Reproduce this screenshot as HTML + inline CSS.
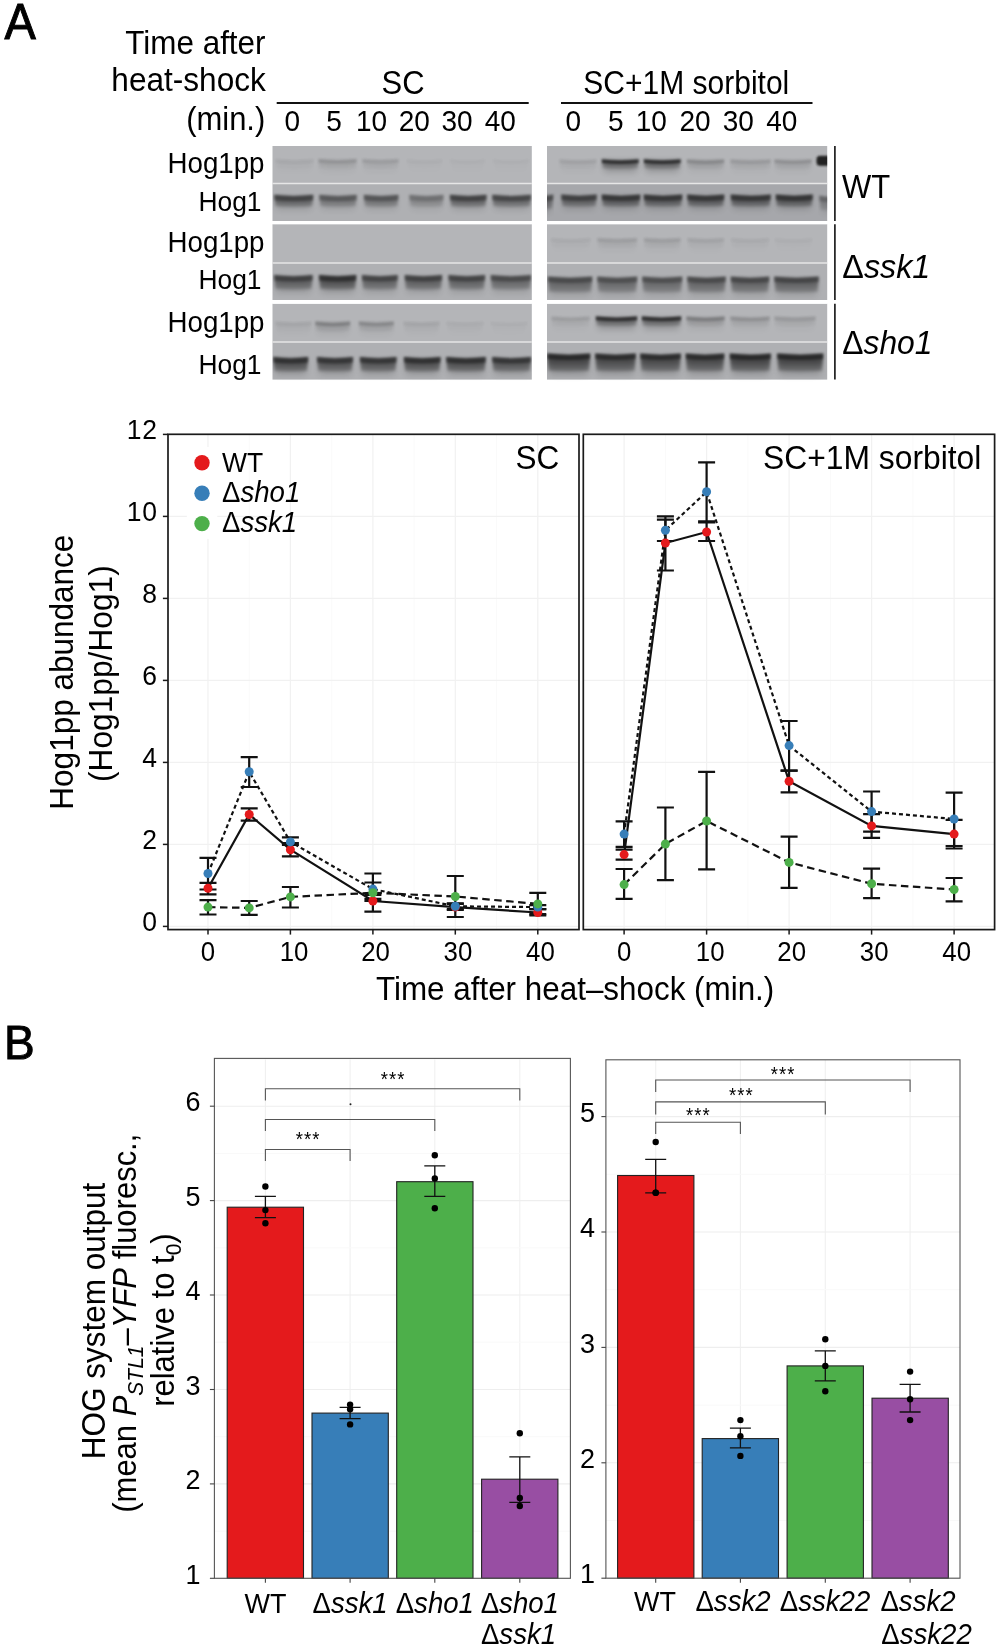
<!DOCTYPE html>
<html><head><meta charset="utf-8"><style>
html,body{margin:0;padding:0;background:#fff;}
body{width:1000px;height:1651px;overflow:hidden;}
svg{display:block;will-change:transform;}
text{font-family:"Liberation Sans", sans-serif;fill:#000;}
</style></head><body>
<svg width="1000" height="1651" viewBox="0 0 1000 1651">
<rect width="1000" height="1651" fill="#fff"/>
<text transform="translate(4.6,39.0) scale(1,1.05)" font-size="47" text-anchor="start" stroke="#000" stroke-width="0.9">A</text>
<text transform="translate(265.5,54.0) scale(1,1.05)" font-size="31.4" text-anchor="end" >Time after</text>
<text transform="translate(265.8,91.0) scale(1,1.05)" font-size="31.6" text-anchor="end" >heat-shock</text>
<text transform="translate(265.3,129.5) scale(1,1.05)" font-size="31" text-anchor="end" >(min.)</text>
<text transform="translate(403.0,93.8) scale(1,1.1)" font-size="31" text-anchor="middle" >SC</text>
<text transform="translate(686.3,93.6) scale(1,1.08)" font-size="30" text-anchor="middle" >SC+1M sorbitol</text>
<line x1="276.7" y1="103" x2="528.7" y2="103" stroke="#111" stroke-width="2"/>
<line x1="561" y1="103" x2="812.5" y2="103" stroke="#111" stroke-width="2"/>
<text transform="translate(292.3,131.3) scale(1,1.05)" font-size="28" text-anchor="middle" >0</text>
<text transform="translate(334.0,131.3) scale(1,1.05)" font-size="28" text-anchor="middle" >5</text>
<text transform="translate(371.5,131.3) scale(1,1.05)" font-size="28" text-anchor="middle" >10</text>
<text transform="translate(414.2,131.3) scale(1,1.05)" font-size="28" text-anchor="middle" >20</text>
<text transform="translate(457.1,131.3) scale(1,1.05)" font-size="28" text-anchor="middle" >30</text>
<text transform="translate(500.3,131.3) scale(1,1.05)" font-size="28" text-anchor="middle" >40</text>
<text transform="translate(573.3,131.3) scale(1,1.05)" font-size="28" text-anchor="middle" >0</text>
<text transform="translate(615.8,131.3) scale(1,1.05)" font-size="28" text-anchor="middle" >5</text>
<text transform="translate(651.2,131.3) scale(1,1.05)" font-size="28" text-anchor="middle" >10</text>
<text transform="translate(695.0,131.3) scale(1,1.05)" font-size="28" text-anchor="middle" >20</text>
<text transform="translate(738.2,131.3) scale(1,1.05)" font-size="28" text-anchor="middle" >30</text>
<text transform="translate(781.8,131.3) scale(1,1.05)" font-size="28" text-anchor="middle" >40</text>
<defs><filter id="b1" x="-20%" y="-100%" width="140%" height="300%"><feGaussianBlur stdDeviation="1.5"/></filter><filter id="b2" x="-20%" y="-100%" width="140%" height="300%"><feGaussianBlur stdDeviation="3"/></filter><filter id="b3" x="-20%" y="-100%" width="140%" height="300%"><feGaussianBlur stdDeviation="1.0"/></filter><linearGradient id="gb" x1="0" y1="0" x2="0" y2="1"><stop offset="0" stop-color="#000" stop-opacity="1"/><stop offset="0.45" stop-color="#000" stop-opacity="0.8"/><stop offset="1" stop-color="#000" stop-opacity="0.35"/></linearGradient></defs>
<rect x="272.5" y="146" width="259.3" height="37.5" fill="#b4b5b8"/>
<rect x="272.5" y="183.5" width="259.3" height="37.5" fill="#afb0b3"/>
<rect x="272.5" y="224.2" width="259.3" height="38.8" fill="#b4b5b8"/>
<rect x="272.5" y="263" width="259.3" height="37.0" fill="#afb0b3"/>
<rect x="272.5" y="303.7" width="259.3" height="38.3" fill="#b4b5b8"/>
<rect x="272.5" y="342" width="259.3" height="37.6" fill="#afb0b3"/>
<rect x="547" y="146" width="280.2" height="37.5" fill="#b4b5b8"/>
<rect x="547" y="183.5" width="280.2" height="37.5" fill="#a6a7ab"/>
<rect x="547" y="224.2" width="280.2" height="38.8" fill="#b4b5b8"/>
<rect x="547" y="263" width="280.2" height="37.0" fill="#afb0b3"/>
<rect x="547" y="303.7" width="280.2" height="38.3" fill="#b4b5b8"/>
<rect x="547" y="342" width="280.2" height="37.6" fill="#afb0b3"/>
<clipPath id="clipSC"><rect x="272.5" y="140" width="259.3" height="245"/></clipPath>
<g clip-path="url(#clipSC)">
<rect x="277.0" y="161.0" width="35.0" height="11.0" rx="3" fill="#000" opacity="0.011" filter="url(#b2)"/>
<path d="M275.0,158.8 Q294.5,161.1 314.0,158.8 L312.5,168.0 Q294.5,169.5 276.5,168.0 Z" fill="url(#gb)" opacity="0.027" filter="url(#b1)"/>
<path d="M275.5,159.1 Q294.5,161.3 313.5,159.1 L313.5,162.7 Q294.5,164.7 275.5,162.7 Z" fill="#000" opacity="0.033" filter="url(#b3)"/>
<rect x="276.0" y="197.8" width="35.5" height="12.0" rx="3" fill="#000" opacity="0.126" filter="url(#b2)"/>
<path d="M274.0,194.8 Q293.8,197.1 313.5,194.8 L312.0,206.2 Q293.8,207.7 275.5,206.2 Z" fill="url(#gb)" opacity="0.490" filter="url(#b1)"/>
<path d="M274.5,195.1 Q293.8,197.3 313.0,195.1 L313.0,200.3 Q293.8,202.3 274.5,200.3 Z" fill="#000" opacity="0.280" filter="url(#b3)"/>
<rect x="320.0" y="161.0" width="35.0" height="11.0" rx="3" fill="#000" opacity="0.032" filter="url(#b2)"/>
<path d="M318.0,158.8 Q337.5,161.1 357.0,158.8 L355.5,168.0 Q337.5,169.5 319.5,168.0 Z" fill="url(#gb)" opacity="0.081" filter="url(#b1)"/>
<path d="M318.5,159.1 Q337.5,161.3 356.5,159.1 L356.5,162.7 Q337.5,164.7 318.5,162.7 Z" fill="#000" opacity="0.099" filter="url(#b3)"/>
<rect x="321.0" y="197.8" width="34.0" height="12.0" rx="3" fill="#000" opacity="0.094" filter="url(#b2)"/>
<path d="M319.0,194.8 Q338.0,197.1 357.0,194.8 L355.5,206.2 Q338.0,207.7 320.5,206.2 Z" fill="url(#gb)" opacity="0.364" filter="url(#b1)"/>
<path d="M319.5,195.1 Q338.0,197.3 356.5,195.1 L356.5,200.3 Q338.0,202.3 319.5,200.3 Z" fill="#000" opacity="0.208" filter="url(#b3)"/>
<rect x="364.0" y="161.0" width="33.0" height="11.0" rx="3" fill="#000" opacity="0.023" filter="url(#b2)"/>
<path d="M362.0,158.8 Q380.5,161.1 399.0,158.8 L397.5,168.0 Q380.5,169.5 363.5,168.0 Z" fill="url(#gb)" opacity="0.059" filter="url(#b1)"/>
<path d="M362.5,159.1 Q380.5,161.3 398.5,159.1 L398.5,162.7 Q380.5,164.7 362.5,162.7 Z" fill="#000" opacity="0.072" filter="url(#b3)"/>
<rect x="365.6" y="197.8" width="31.1" height="12.0" rx="3" fill="#000" opacity="0.099" filter="url(#b2)"/>
<path d="M363.6,194.8 Q381.1,197.1 398.7,194.8 L397.2,206.2 Q381.1,207.7 365.1,206.2 Z" fill="url(#gb)" opacity="0.385" filter="url(#b1)"/>
<path d="M364.1,195.1 Q381.1,197.3 398.2,195.1 L398.2,200.3 Q381.1,202.3 364.1,200.3 Z" fill="#000" opacity="0.220" filter="url(#b3)"/>
<rect x="408.0" y="161.0" width="33.0" height="11.0" rx="3" fill="#000" opacity="0.005" filter="url(#b2)"/>
<path d="M406.0,158.8 Q424.5,161.1 443.0,158.8 L441.5,168.0 Q424.5,169.5 407.5,168.0 Z" fill="url(#gb)" opacity="0.013" filter="url(#b1)"/>
<path d="M406.5,159.1 Q424.5,161.3 442.5,159.1 L442.5,162.7 Q424.5,164.7 406.5,162.7 Z" fill="#000" opacity="0.017" filter="url(#b3)"/>
<rect x="411.0" y="197.8" width="30.8" height="12.0" rx="3" fill="#000" opacity="0.065" filter="url(#b2)"/>
<path d="M409.0,194.8 Q426.4,197.1 443.8,194.8 L442.3,206.2 Q426.4,207.7 410.5,206.2 Z" fill="url(#gb)" opacity="0.252" filter="url(#b1)"/>
<path d="M409.5,195.1 Q426.4,197.3 443.3,195.1 L443.3,200.3 Q426.4,202.3 409.5,200.3 Z" fill="#000" opacity="0.144" filter="url(#b3)"/>
<rect x="451.0" y="161.0" width="33.0" height="11.0" rx="3" fill="#000" opacity="0.004" filter="url(#b2)"/>
<path d="M449.0,158.8 Q467.5,161.1 486.0,158.8 L484.5,168.0 Q467.5,169.5 450.5,168.0 Z" fill="url(#gb)" opacity="0.009" filter="url(#b1)"/>
<path d="M449.5,159.1 Q467.5,161.3 485.5,159.1 L485.5,162.7 Q467.5,164.7 449.5,162.7 Z" fill="#000" opacity="0.011" filter="url(#b3)"/>
<rect x="451.7" y="197.8" width="33.1" height="12.0" rx="3" fill="#000" opacity="0.126" filter="url(#b2)"/>
<path d="M449.7,194.8 Q468.2,197.1 486.8,194.8 L485.3,206.2 Q468.2,207.7 451.2,206.2 Z" fill="url(#gb)" opacity="0.490" filter="url(#b1)"/>
<path d="M450.2,195.1 Q468.2,197.3 486.3,195.1 L486.3,200.3 Q468.2,202.3 450.2,200.3 Z" fill="#000" opacity="0.280" filter="url(#b3)"/>
<rect x="494.0" y="161.0" width="34.0" height="11.0" rx="3" fill="#000" opacity="0.004" filter="url(#b2)"/>
<path d="M492.0,158.8 Q511.0,161.1 530.0,158.8 L528.5,168.0 Q511.0,169.5 493.5,168.0 Z" fill="url(#gb)" opacity="0.009" filter="url(#b1)"/>
<path d="M492.5,159.1 Q511.0,161.3 529.5,159.1 L529.5,162.7 Q511.0,164.7 492.5,162.7 Z" fill="#000" opacity="0.011" filter="url(#b3)"/>
<rect x="494.0" y="197.8" width="35.3" height="12.0" rx="3" fill="#000" opacity="0.119" filter="url(#b2)"/>
<path d="M492.0,194.8 Q511.6,197.1 531.3,194.8 L529.8,206.2 Q511.6,207.7 493.5,206.2 Z" fill="url(#gb)" opacity="0.462" filter="url(#b1)"/>
<path d="M492.5,195.1 Q511.6,197.3 530.8,195.1 L530.8,200.3 Q511.6,202.3 492.5,200.3 Z" fill="#000" opacity="0.264" filter="url(#b3)"/>
<rect x="275.9" y="278.0" width="35.0" height="15.0" rx="3" fill="#000" opacity="0.130" filter="url(#b2)"/>
<path d="M273.9,275.0 Q293.4,277.3 312.9,275.0 L311.4,289.0 Q293.4,290.5 275.4,289.0 Z" fill="url(#gb)" opacity="0.504" filter="url(#b1)"/>
<path d="M274.4,275.3 Q293.4,277.5 312.4,275.3 L312.4,280.5 Q293.4,282.5 274.4,280.5 Z" fill="#000" opacity="0.288" filter="url(#b3)"/>
<rect x="320.8" y="278.0" width="33.7" height="15.0" rx="3" fill="#000" opacity="0.153" filter="url(#b2)"/>
<path d="M318.8,275.0 Q337.6,277.3 356.5,275.0 L355.0,289.0 Q337.6,290.5 320.3,289.0 Z" fill="url(#gb)" opacity="0.595" filter="url(#b1)"/>
<path d="M319.3,275.3 Q337.6,277.5 356.0,275.3 L356.0,280.5 Q337.6,282.5 319.3,280.5 Z" fill="#000" opacity="0.340" filter="url(#b3)"/>
<rect x="363.7" y="278.0" width="32.3" height="15.0" rx="3" fill="#000" opacity="0.122" filter="url(#b2)"/>
<path d="M361.7,275.0 Q379.9,277.3 398.0,275.0 L396.5,289.0 Q379.9,290.5 363.2,289.0 Z" fill="url(#gb)" opacity="0.476" filter="url(#b1)"/>
<path d="M362.2,275.3 Q379.9,277.5 397.5,275.3 L397.5,280.5 Q379.9,282.5 362.2,280.5 Z" fill="#000" opacity="0.272" filter="url(#b3)"/>
<rect x="406.5" y="278.0" width="33.8" height="15.0" rx="3" fill="#000" opacity="0.126" filter="url(#b2)"/>
<path d="M404.5,275.0 Q423.4,277.3 442.3,275.0 L440.8,289.0 Q423.4,290.5 406.0,289.0 Z" fill="url(#gb)" opacity="0.490" filter="url(#b1)"/>
<path d="M405.0,275.3 Q423.4,277.5 441.8,275.3 L441.8,280.5 Q423.4,282.5 405.0,280.5 Z" fill="#000" opacity="0.280" filter="url(#b3)"/>
<rect x="450.2" y="278.0" width="33.1" height="15.0" rx="3" fill="#000" opacity="0.122" filter="url(#b2)"/>
<path d="M448.2,275.0 Q466.8,277.3 485.3,275.0 L483.8,289.0 Q466.8,290.5 449.7,289.0 Z" fill="url(#gb)" opacity="0.476" filter="url(#b1)"/>
<path d="M448.7,275.3 Q466.8,277.5 484.8,275.3 L484.8,280.5 Q466.8,282.5 448.7,280.5 Z" fill="#000" opacity="0.272" filter="url(#b3)"/>
<rect x="492.5" y="278.0" width="36.8" height="15.0" rx="3" fill="#000" opacity="0.112" filter="url(#b2)"/>
<path d="M490.5,275.0 Q510.9,277.3 531.3,275.0 L529.8,289.0 Q510.9,290.5 492.0,289.0 Z" fill="url(#gb)" opacity="0.434" filter="url(#b1)"/>
<path d="M491.0,275.3 Q510.9,277.5 530.8,275.3 L530.8,280.5 Q510.9,282.5 491.0,280.5 Z" fill="#000" opacity="0.248" filter="url(#b3)"/>
<rect x="277.0" y="323.5" width="33.0" height="11.0" rx="3" fill="#000" opacity="0.014" filter="url(#b2)"/>
<path d="M275.0,321.3 Q293.5,323.6 312.0,321.3 L310.5,330.5 Q293.5,332.0 276.5,330.5 Z" fill="url(#gb)" opacity="0.036" filter="url(#b1)"/>
<path d="M275.5,321.6 Q293.5,323.8 311.5,321.6 L311.5,325.2 Q293.5,327.2 275.5,325.2 Z" fill="#000" opacity="0.044" filter="url(#b3)"/>
<rect x="275.0" y="360.0" width="31.4" height="15.0" rx="3" fill="#000" opacity="0.153" filter="url(#b2)"/>
<path d="M273.0,357.0 Q290.7,359.3 308.4,357.0 L306.9,371.0 Q290.7,372.5 274.5,371.0 Z" fill="url(#gb)" opacity="0.595" filter="url(#b1)"/>
<path d="M273.5,357.3 Q290.7,359.5 307.9,357.3 L307.9,362.5 Q290.7,364.5 273.5,362.5 Z" fill="#000" opacity="0.340" filter="url(#b3)"/>
<rect x="316.9" y="323.5" width="31.7" height="11.0" rx="3" fill="#000" opacity="0.054" filter="url(#b2)"/>
<path d="M314.9,321.3 Q332.8,323.6 350.6,321.3 L349.1,330.5 Q332.8,332.0 316.4,330.5 Z" fill="url(#gb)" opacity="0.135" filter="url(#b1)"/>
<path d="M315.4,321.6 Q332.8,323.8 350.1,321.6 L350.1,325.2 Q332.8,327.2 315.4,325.2 Z" fill="#000" opacity="0.165" filter="url(#b3)"/>
<rect x="318.8" y="360.0" width="32.4" height="15.0" rx="3" fill="#000" opacity="0.144" filter="url(#b2)"/>
<path d="M316.8,357.0 Q335.0,359.3 353.2,357.0 L351.7,371.0 Q335.0,372.5 318.3,371.0 Z" fill="url(#gb)" opacity="0.560" filter="url(#b1)"/>
<path d="M317.3,357.3 Q335.0,359.5 352.7,357.3 L352.7,362.5 Q335.0,364.5 317.3,362.5 Z" fill="#000" opacity="0.320" filter="url(#b3)"/>
<rect x="360.4" y="323.5" width="31.8" height="11.0" rx="3" fill="#000" opacity="0.045" filter="url(#b2)"/>
<path d="M358.4,321.3 Q376.3,323.6 394.2,321.3 L392.7,330.5 Q376.3,332.0 359.9,330.5 Z" fill="url(#gb)" opacity="0.113" filter="url(#b1)"/>
<path d="M358.9,321.6 Q376.3,323.8 393.7,321.6 L393.7,325.2 Q376.3,327.2 358.9,325.2 Z" fill="#000" opacity="0.138" filter="url(#b3)"/>
<rect x="361.7" y="360.0" width="33.1" height="15.0" rx="3" fill="#000" opacity="0.144" filter="url(#b2)"/>
<path d="M359.7,357.0 Q378.2,359.3 396.8,357.0 L395.3,371.0 Q378.2,372.5 361.2,371.0 Z" fill="url(#gb)" opacity="0.560" filter="url(#b1)"/>
<path d="M360.2,357.3 Q378.2,359.5 396.3,357.3 L396.3,362.5 Q378.2,364.5 360.2,362.5 Z" fill="#000" opacity="0.320" filter="url(#b3)"/>
<rect x="405.0" y="323.5" width="33.0" height="11.0" rx="3" fill="#000" opacity="0.014" filter="url(#b2)"/>
<path d="M403.0,321.3 Q421.5,323.6 440.0,321.3 L438.5,330.5 Q421.5,332.0 404.5,330.5 Z" fill="url(#gb)" opacity="0.036" filter="url(#b1)"/>
<path d="M403.5,321.6 Q421.5,323.8 439.5,321.6 L439.5,325.2 Q421.5,327.2 403.5,325.2 Z" fill="#000" opacity="0.044" filter="url(#b3)"/>
<rect x="405.7" y="360.0" width="33.1" height="15.0" rx="3" fill="#000" opacity="0.153" filter="url(#b2)"/>
<path d="M403.7,357.0 Q422.2,359.3 440.8,357.0 L439.3,371.0 Q422.2,372.5 405.2,371.0 Z" fill="url(#gb)" opacity="0.595" filter="url(#b1)"/>
<path d="M404.2,357.3 Q422.2,359.5 440.3,357.3 L440.3,362.5 Q422.2,364.5 404.2,362.5 Z" fill="#000" opacity="0.340" filter="url(#b3)"/>
<rect x="448.0" y="323.5" width="34.0" height="11.0" rx="3" fill="#000" opacity="0.007" filter="url(#b2)"/>
<path d="M446.0,321.3 Q465.0,323.6 484.0,321.3 L482.5,330.5 Q465.0,332.0 447.5,330.5 Z" fill="url(#gb)" opacity="0.018" filter="url(#b1)"/>
<path d="M446.5,321.6 Q465.0,323.8 483.5,321.6 L483.5,325.2 Q465.0,327.2 446.5,325.2 Z" fill="#000" opacity="0.022" filter="url(#b3)"/>
<rect x="448.0" y="360.0" width="36.0" height="15.0" rx="3" fill="#000" opacity="0.153" filter="url(#b2)"/>
<path d="M446.0,357.0 Q466.0,359.3 486.0,357.0 L484.5,371.0 Q466.0,372.5 447.5,371.0 Z" fill="url(#gb)" opacity="0.595" filter="url(#b1)"/>
<path d="M446.5,357.3 Q466.0,359.5 485.5,357.3 L485.5,362.5 Q466.0,364.5 446.5,362.5 Z" fill="#000" opacity="0.340" filter="url(#b3)"/>
<rect x="492.0" y="323.5" width="34.0" height="11.0" rx="3" fill="#000" opacity="0.005" filter="url(#b2)"/>
<path d="M490.0,321.3 Q509.0,323.6 528.0,321.3 L526.5,330.5 Q509.0,332.0 491.5,330.5 Z" fill="url(#gb)" opacity="0.013" filter="url(#b1)"/>
<path d="M490.5,321.6 Q509.0,323.8 527.5,321.6 L527.5,325.2 Q509.0,327.2 490.5,325.2 Z" fill="#000" opacity="0.017" filter="url(#b3)"/>
<rect x="494.0" y="360.0" width="35.3" height="15.0" rx="3" fill="#000" opacity="0.144" filter="url(#b2)"/>
<path d="M492.0,357.0 Q511.6,359.3 531.3,357.0 L529.8,371.0 Q511.6,372.5 493.5,371.0 Z" fill="url(#gb)" opacity="0.560" filter="url(#b1)"/>
<path d="M492.5,357.3 Q511.6,359.5 530.8,357.3 L530.8,362.5 Q511.6,364.5 492.5,362.5 Z" fill="#000" opacity="0.320" filter="url(#b3)"/>
</g>
<rect x="272.5" y="221.0" width="259.3" height="3.2" fill="#fff"/>
<rect x="272.5" y="300.0" width="259.3" height="3.7" fill="#fff"/>
<line x1="272.5" y1="183.5" x2="531.8" y2="183.5" stroke="#e6e6e6" stroke-width="1.3"/>
<line x1="272.5" y1="263" x2="531.8" y2="263" stroke="#e6e6e6" stroke-width="1.3"/>
<line x1="272.5" y1="342" x2="531.8" y2="342" stroke="#e6e6e6" stroke-width="1.3"/>
<clipPath id="clipSB"><rect x="547" y="140" width="280.2" height="245"/></clipPath>
<g clip-path="url(#clipSB)">
<rect x="561.0" y="161.3" width="34.0" height="11.0" rx="3" fill="#000" opacity="0.018" filter="url(#b2)"/>
<path d="M559.0,159.1 Q578.0,161.4 597.0,159.1 L595.5,168.3 Q578.0,169.8 560.5,168.3 Z" fill="url(#gb)" opacity="0.045" filter="url(#b1)"/>
<path d="M559.5,159.4 Q578.0,161.6 596.5,159.4 L596.5,163.0 Q578.0,165.0 559.5,163.0 Z" fill="#000" opacity="0.055" filter="url(#b3)"/>
<rect x="563.0" y="197.5" width="32.0" height="12.0" rx="3" fill="#000" opacity="0.126" filter="url(#b2)"/>
<path d="M561.0,194.5 Q579.0,196.8 597.0,194.5 L595.5,205.9 Q579.0,207.4 562.5,205.9 Z" fill="url(#gb)" opacity="0.490" filter="url(#b1)"/>
<path d="M561.5,194.8 Q579.0,197.0 596.5,194.8 L596.5,200.0 Q579.0,202.0 561.5,200.0 Z" fill="#000" opacity="0.280" filter="url(#b3)"/>
<rect x="603.5" y="161.3" width="33.5" height="11.0" rx="3" fill="#000" opacity="0.171" filter="url(#b2)"/>
<path d="M601.5,159.1 Q620.2,161.4 639.0,159.1 L637.5,168.3 Q620.2,169.8 603.0,168.3 Z" fill="url(#gb)" opacity="0.427" filter="url(#b1)"/>
<path d="M602.0,159.4 Q620.2,161.6 638.5,159.4 L638.5,163.0 Q620.2,165.0 602.0,163.0 Z" fill="#000" opacity="0.522" filter="url(#b3)"/>
<rect x="603.5" y="197.5" width="35.0" height="12.0" rx="3" fill="#000" opacity="0.140" filter="url(#b2)"/>
<path d="M601.5,194.5 Q621.0,196.8 640.5,194.5 L639.0,205.9 Q621.0,207.4 603.0,205.9 Z" fill="url(#gb)" opacity="0.546" filter="url(#b1)"/>
<path d="M602.0,194.8 Q621.0,197.0 640.0,194.8 L640.0,200.0 Q621.0,202.0 602.0,200.0 Z" fill="#000" opacity="0.312" filter="url(#b3)"/>
<rect x="645.5" y="161.3" width="33.5" height="11.0" rx="3" fill="#000" opacity="0.171" filter="url(#b2)"/>
<path d="M643.5,159.1 Q662.2,161.4 681.0,159.1 L679.5,168.3 Q662.2,169.8 645.0,168.3 Z" fill="url(#gb)" opacity="0.427" filter="url(#b1)"/>
<path d="M644.0,159.4 Q662.2,161.6 680.5,159.4 L680.5,163.0 Q662.2,165.0 644.0,163.0 Z" fill="#000" opacity="0.522" filter="url(#b3)"/>
<rect x="645.5" y="197.5" width="35.0" height="12.0" rx="3" fill="#000" opacity="0.140" filter="url(#b2)"/>
<path d="M643.5,194.5 Q663.0,196.8 682.5,194.5 L681.0,205.9 Q663.0,207.4 645.0,205.9 Z" fill="url(#gb)" opacity="0.546" filter="url(#b1)"/>
<path d="M644.0,194.8 Q663.0,197.0 682.0,194.8 L682.0,200.0 Q663.0,202.0 644.0,200.0 Z" fill="#000" opacity="0.312" filter="url(#b3)"/>
<rect x="688.5" y="161.3" width="34.0" height="11.0" rx="3" fill="#000" opacity="0.045" filter="url(#b2)"/>
<path d="M686.5,159.1 Q705.5,161.4 724.5,159.1 L723.0,168.3 Q705.5,169.8 688.0,168.3 Z" fill="url(#gb)" opacity="0.113" filter="url(#b1)"/>
<path d="M687.0,159.4 Q705.5,161.6 724.0,159.4 L724.0,163.0 Q705.5,165.0 687.0,163.0 Z" fill="#000" opacity="0.138" filter="url(#b3)"/>
<rect x="689.0" y="197.5" width="33.5" height="12.0" rx="3" fill="#000" opacity="0.140" filter="url(#b2)"/>
<path d="M687.0,194.5 Q705.8,196.8 724.5,194.5 L723.0,205.9 Q705.8,207.4 688.5,205.9 Z" fill="url(#gb)" opacity="0.546" filter="url(#b1)"/>
<path d="M687.5,194.8 Q705.8,197.0 724.0,194.8 L724.0,200.0 Q705.8,202.0 687.5,200.0 Z" fill="#000" opacity="0.312" filter="url(#b3)"/>
<rect x="732.0" y="161.3" width="37.0" height="11.0" rx="3" fill="#000" opacity="0.027" filter="url(#b2)"/>
<path d="M730.0,159.1 Q750.5,161.4 771.0,159.1 L769.5,168.3 Q750.5,169.8 731.5,168.3 Z" fill="url(#gb)" opacity="0.068" filter="url(#b1)"/>
<path d="M730.5,159.4 Q750.5,161.6 770.5,159.4 L770.5,163.0 Q750.5,165.0 730.5,163.0 Z" fill="#000" opacity="0.083" filter="url(#b3)"/>
<rect x="732.5" y="197.5" width="36.5" height="12.0" rx="3" fill="#000" opacity="0.140" filter="url(#b2)"/>
<path d="M730.5,194.5 Q750.8,196.8 771.0,194.5 L769.5,205.9 Q750.8,207.4 732.0,205.9 Z" fill="url(#gb)" opacity="0.546" filter="url(#b1)"/>
<path d="M731.0,194.8 Q750.8,197.0 770.5,194.8 L770.5,200.0 Q750.8,202.0 731.0,200.0 Z" fill="#000" opacity="0.312" filter="url(#b3)"/>
<rect x="776.0" y="161.3" width="34.0" height="11.0" rx="3" fill="#000" opacity="0.036" filter="url(#b2)"/>
<path d="M774.0,159.1 Q793.0,161.4 812.0,159.1 L810.5,168.3 Q793.0,169.8 775.5,168.3 Z" fill="url(#gb)" opacity="0.090" filter="url(#b1)"/>
<path d="M774.5,159.4 Q793.0,161.6 811.5,159.4 L811.5,163.0 Q793.0,165.0 774.5,163.0 Z" fill="#000" opacity="0.110" filter="url(#b3)"/>
<rect x="777.5" y="197.5" width="33.5" height="12.0" rx="3" fill="#000" opacity="0.144" filter="url(#b2)"/>
<path d="M775.5,194.5 Q794.2,196.8 813.0,194.5 L811.5,205.9 Q794.2,207.4 777.0,205.9 Z" fill="url(#gb)" opacity="0.560" filter="url(#b1)"/>
<path d="M776.0,194.8 Q794.2,197.0 812.5,194.8 L812.5,200.0 Q794.2,202.0 776.0,200.0 Z" fill="#000" opacity="0.320" filter="url(#b3)"/>
<rect x="552.5" y="240.0" width="36.5" height="11.0" rx="3" fill="#000" opacity="0.009" filter="url(#b2)"/>
<path d="M550.5,237.8 Q570.8,240.1 591.0,237.8 L589.5,247.0 Q570.8,248.5 552.0,247.0 Z" fill="url(#gb)" opacity="0.023" filter="url(#b1)"/>
<path d="M551.0,238.1 Q570.8,240.3 590.5,238.1 L590.5,241.7 Q570.8,243.7 551.0,241.7 Z" fill="#000" opacity="0.028" filter="url(#b3)"/>
<rect x="549.5" y="279.5" width="41.0" height="16.5" rx="3" fill="#000" opacity="0.112" filter="url(#b2)"/>
<path d="M547.5,276.5 Q570.0,278.8 592.5,276.5 L591.0,291.8 Q570.0,293.3 549.0,291.8 Z" fill="url(#gb)" opacity="0.434" filter="url(#b1)"/>
<path d="M548.0,276.8 Q570.0,279.0 592.0,276.8 L592.0,282.0 Q570.0,284.0 548.0,282.0 Z" fill="#000" opacity="0.248" filter="url(#b3)"/>
<rect x="599.0" y="240.0" width="36.5" height="11.0" rx="3" fill="#000" opacity="0.022" filter="url(#b2)"/>
<path d="M597.0,237.8 Q617.2,240.1 637.5,237.8 L636.0,247.0 Q617.2,248.5 598.5,247.0 Z" fill="url(#gb)" opacity="0.054" filter="url(#b1)"/>
<path d="M597.5,238.1 Q617.2,240.3 637.0,238.1 L637.0,241.7 Q617.2,243.7 597.5,241.7 Z" fill="#000" opacity="0.066" filter="url(#b3)"/>
<rect x="599.0" y="279.5" width="36.5" height="16.5" rx="3" fill="#000" opacity="0.104" filter="url(#b2)"/>
<path d="M597.0,276.5 Q617.2,278.8 637.5,276.5 L636.0,291.8 Q617.2,293.3 598.5,291.8 Z" fill="url(#gb)" opacity="0.406" filter="url(#b1)"/>
<path d="M597.5,276.8 Q617.2,279.0 637.0,276.8 L637.0,282.0 Q617.2,284.0 597.5,282.0 Z" fill="#000" opacity="0.232" filter="url(#b3)"/>
<rect x="645.5" y="240.0" width="33.5" height="11.0" rx="3" fill="#000" opacity="0.022" filter="url(#b2)"/>
<path d="M643.5,237.8 Q662.2,240.1 681.0,237.8 L679.5,247.0 Q662.2,248.5 645.0,247.0 Z" fill="url(#gb)" opacity="0.054" filter="url(#b1)"/>
<path d="M644.0,238.1 Q662.2,240.3 680.5,238.1 L680.5,241.7 Q662.2,243.7 644.0,241.7 Z" fill="#000" opacity="0.066" filter="url(#b3)"/>
<rect x="644.0" y="279.5" width="36.5" height="16.5" rx="3" fill="#000" opacity="0.104" filter="url(#b2)"/>
<path d="M642.0,276.5 Q662.2,278.8 682.5,276.5 L681.0,291.8 Q662.2,293.3 643.5,291.8 Z" fill="url(#gb)" opacity="0.406" filter="url(#b1)"/>
<path d="M642.5,276.8 Q662.2,279.0 682.0,276.8 L682.0,282.0 Q662.2,284.0 642.5,282.0 Z" fill="#000" opacity="0.232" filter="url(#b3)"/>
<rect x="689.0" y="240.0" width="33.5" height="11.0" rx="3" fill="#000" opacity="0.016" filter="url(#b2)"/>
<path d="M687.0,237.8 Q705.8,240.1 724.5,237.8 L723.0,247.0 Q705.8,248.5 688.5,247.0 Z" fill="url(#gb)" opacity="0.041" filter="url(#b1)"/>
<path d="M687.5,238.1 Q705.8,240.3 724.0,238.1 L724.0,241.7 Q705.8,243.7 687.5,241.7 Z" fill="#000" opacity="0.050" filter="url(#b3)"/>
<rect x="689.0" y="279.5" width="35.0" height="16.5" rx="3" fill="#000" opacity="0.112" filter="url(#b2)"/>
<path d="M687.0,276.5 Q706.5,278.8 726.0,276.5 L724.5,291.8 Q706.5,293.3 688.5,291.8 Z" fill="url(#gb)" opacity="0.434" filter="url(#b1)"/>
<path d="M687.5,276.8 Q706.5,279.0 725.5,276.8 L725.5,282.0 Q706.5,284.0 687.5,282.0 Z" fill="#000" opacity="0.248" filter="url(#b3)"/>
<rect x="732.5" y="240.0" width="35.0" height="11.0" rx="3" fill="#000" opacity="0.009" filter="url(#b2)"/>
<path d="M730.5,237.8 Q750.0,240.1 769.5,237.8 L768.0,247.0 Q750.0,248.5 732.0,247.0 Z" fill="url(#gb)" opacity="0.023" filter="url(#b1)"/>
<path d="M731.0,238.1 Q750.0,240.3 769.0,238.1 L769.0,241.7 Q750.0,243.7 731.0,241.7 Z" fill="#000" opacity="0.028" filter="url(#b3)"/>
<rect x="732.5" y="279.5" width="35.0" height="16.5" rx="3" fill="#000" opacity="0.115" filter="url(#b2)"/>
<path d="M730.5,276.5 Q750.0,278.8 769.5,276.5 L768.0,291.8 Q750.0,293.3 732.0,291.8 Z" fill="url(#gb)" opacity="0.448" filter="url(#b1)"/>
<path d="M731.0,276.8 Q750.0,279.0 769.0,276.8 L769.0,282.0 Q750.0,284.0 731.0,282.0 Z" fill="#000" opacity="0.256" filter="url(#b3)"/>
<rect x="776.0" y="240.0" width="35.0" height="11.0" rx="3" fill="#000" opacity="0.005" filter="url(#b2)"/>
<path d="M774.0,237.8 Q793.5,240.1 813.0,237.8 L811.5,247.0 Q793.5,248.5 775.5,247.0 Z" fill="url(#gb)" opacity="0.013" filter="url(#b1)"/>
<path d="M774.5,238.1 Q793.5,240.3 812.5,238.1 L812.5,241.7 Q793.5,243.7 774.5,241.7 Z" fill="#000" opacity="0.017" filter="url(#b3)"/>
<rect x="776.0" y="279.5" width="41.0" height="16.5" rx="3" fill="#000" opacity="0.119" filter="url(#b2)"/>
<path d="M774.0,276.5 Q796.5,278.8 819.0,276.5 L817.5,291.8 Q796.5,293.3 775.5,291.8 Z" fill="url(#gb)" opacity="0.462" filter="url(#b1)"/>
<path d="M774.5,276.8 Q796.5,279.0 818.5,276.8 L818.5,282.0 Q796.5,284.0 774.5,282.0 Z" fill="#000" opacity="0.264" filter="url(#b3)"/>
<rect x="553.0" y="318.5" width="35.0" height="11.0" rx="3" fill="#000" opacity="0.022" filter="url(#b2)"/>
<path d="M551.0,316.3 Q570.5,318.6 590.0,316.3 L588.5,325.5 Q570.5,327.0 552.5,325.5 Z" fill="url(#gb)" opacity="0.054" filter="url(#b1)"/>
<path d="M551.5,316.6 Q570.5,318.8 589.5,316.6 L589.5,320.2 Q570.5,322.2 551.5,320.2 Z" fill="#000" opacity="0.066" filter="url(#b3)"/>
<rect x="549.0" y="356.5" width="39.4" height="18.8" rx="3" fill="#000" opacity="0.166" filter="url(#b2)"/>
<path d="M547.0,353.5 Q568.7,355.8 590.4,353.5 L588.9,370.8 Q568.7,372.2 548.5,370.8 Z" fill="url(#gb)" opacity="0.644" filter="url(#b1)"/>
<path d="M547.5,353.8 Q568.7,356.0 589.9,353.8 L589.9,359.0 Q568.7,361.0 547.5,359.0 Z" fill="#000" opacity="0.368" filter="url(#b3)"/>
<rect x="597.5" y="318.5" width="38.0" height="11.0" rx="3" fill="#000" opacity="0.171" filter="url(#b2)"/>
<path d="M595.5,316.3 Q616.5,318.6 637.5,316.3 L636.0,325.5 Q616.5,327.0 597.0,325.5 Z" fill="url(#gb)" opacity="0.427" filter="url(#b1)"/>
<path d="M596.0,316.6 Q616.5,318.8 637.0,316.6 L637.0,320.2 Q616.5,322.2 596.0,320.2 Z" fill="#000" opacity="0.522" filter="url(#b3)"/>
<rect x="597.0" y="356.5" width="37.0" height="18.8" rx="3" fill="#000" opacity="0.158" filter="url(#b2)"/>
<path d="M595.0,353.5 Q615.5,355.8 636.0,353.5 L634.5,370.8 Q615.5,372.2 596.5,370.8 Z" fill="url(#gb)" opacity="0.616" filter="url(#b1)"/>
<path d="M595.5,353.8 Q615.5,356.0 635.5,353.8 L635.5,359.0 Q615.5,361.0 595.5,359.0 Z" fill="#000" opacity="0.352" filter="url(#b3)"/>
<rect x="643.5" y="318.5" width="36.0" height="11.0" rx="3" fill="#000" opacity="0.171" filter="url(#b2)"/>
<path d="M641.5,316.3 Q661.5,318.6 681.5,316.3 L680.0,325.5 Q661.5,327.0 643.0,325.5 Z" fill="url(#gb)" opacity="0.427" filter="url(#b1)"/>
<path d="M642.0,316.6 Q661.5,318.8 681.0,316.6 L681.0,320.2 Q661.5,322.2 642.0,320.2 Z" fill="#000" opacity="0.522" filter="url(#b3)"/>
<rect x="642.0" y="356.5" width="37.0" height="18.8" rx="3" fill="#000" opacity="0.158" filter="url(#b2)"/>
<path d="M640.0,353.5 Q660.5,355.8 681.0,353.5 L679.5,370.8 Q660.5,372.2 641.5,370.8 Z" fill="url(#gb)" opacity="0.616" filter="url(#b1)"/>
<path d="M640.5,353.8 Q660.5,356.0 680.5,353.8 L680.5,359.0 Q660.5,361.0 640.5,359.0 Z" fill="#000" opacity="0.352" filter="url(#b3)"/>
<rect x="688.0" y="318.5" width="35.0" height="11.0" rx="3" fill="#000" opacity="0.058" filter="url(#b2)"/>
<path d="M686.0,316.3 Q705.5,318.6 725.0,316.3 L723.5,325.5 Q705.5,327.0 687.5,325.5 Z" fill="url(#gb)" opacity="0.144" filter="url(#b1)"/>
<path d="M686.5,316.6 Q705.5,318.8 724.5,316.6 L724.5,320.2 Q705.5,322.2 686.5,320.2 Z" fill="#000" opacity="0.176" filter="url(#b3)"/>
<rect x="687.5" y="356.5" width="35.0" height="18.8" rx="3" fill="#000" opacity="0.158" filter="url(#b2)"/>
<path d="M685.5,353.5 Q705.0,355.8 724.5,353.5 L723.0,370.8 Q705.0,372.2 687.0,370.8 Z" fill="url(#gb)" opacity="0.616" filter="url(#b1)"/>
<path d="M686.0,353.8 Q705.0,356.0 724.0,353.8 L724.0,359.0 Q705.0,361.0 686.0,359.0 Z" fill="#000" opacity="0.352" filter="url(#b3)"/>
<rect x="732.0" y="318.5" width="36.0" height="11.0" rx="3" fill="#000" opacity="0.036" filter="url(#b2)"/>
<path d="M730.0,316.3 Q750.0,318.6 770.0,316.3 L768.5,325.5 Q750.0,327.0 731.5,325.5 Z" fill="url(#gb)" opacity="0.090" filter="url(#b1)"/>
<path d="M730.5,316.6 Q750.0,318.8 769.5,316.6 L769.5,320.2 Q750.0,322.2 730.5,320.2 Z" fill="#000" opacity="0.110" filter="url(#b3)"/>
<rect x="731.6" y="356.5" width="37.4" height="18.8" rx="3" fill="#000" opacity="0.166" filter="url(#b2)"/>
<path d="M729.6,353.5 Q750.3,355.8 771.0,353.5 L769.5,370.8 Q750.3,372.2 731.1,370.8 Z" fill="url(#gb)" opacity="0.644" filter="url(#b1)"/>
<path d="M730.1,353.8 Q750.3,356.0 770.5,353.8 L770.5,359.0 Q750.3,361.0 730.1,359.0 Z" fill="#000" opacity="0.368" filter="url(#b3)"/>
<rect x="776.0" y="318.5" width="38.0" height="11.0" rx="3" fill="#000" opacity="0.027" filter="url(#b2)"/>
<path d="M774.0,316.3 Q795.0,318.6 816.0,316.3 L814.5,325.5 Q795.0,327.0 775.5,325.5 Z" fill="url(#gb)" opacity="0.068" filter="url(#b1)"/>
<path d="M774.5,316.6 Q795.0,318.8 815.5,316.6 L815.5,320.2 Q795.0,322.2 774.5,320.2 Z" fill="#000" opacity="0.083" filter="url(#b3)"/>
<rect x="779.0" y="356.5" width="42.5" height="18.8" rx="3" fill="#000" opacity="0.166" filter="url(#b2)"/>
<path d="M777.0,353.5 Q800.2,355.8 823.5,353.5 L822.0,370.8 Q800.2,372.2 778.5,370.8 Z" fill="url(#gb)" opacity="0.644" filter="url(#b1)"/>
<path d="M777.5,353.8 Q800.2,356.0 823.0,353.8 L823.0,359.0 Q800.2,361.0 777.5,359.0 Z" fill="#000" opacity="0.368" filter="url(#b3)"/>
<rect x="540.0" y="197.5" width="11.5" height="15.0" rx="3" fill="#000" opacity="0.108" filter="url(#b2)"/>
<path d="M538.0,194.5 Q545.8,196.8 553.5,194.5 L552.0,208.5 Q545.8,210.0 539.5,208.5 Z" fill="url(#gb)" opacity="0.420" filter="url(#b1)"/>
<path d="M538.5,194.8 Q545.8,197.0 553.0,194.8 L553.0,200.0 Q545.8,202.0 538.5,200.0 Z" fill="#000" opacity="0.240" filter="url(#b3)"/>
<rect x="821.0" y="198.5" width="11.0" height="15.0" rx="3" fill="#000" opacity="0.072" filter="url(#b2)"/>
<path d="M819.0,195.5 Q826.5,197.8 834.0,195.5 L832.5,209.5 Q826.5,211.0 820.5,209.5 Z" fill="url(#gb)" opacity="0.280" filter="url(#b1)"/>
<path d="M819.5,195.8 Q826.5,198.0 833.5,195.8 L833.5,201.0 Q826.5,203.0 819.5,201.0 Z" fill="#000" opacity="0.160" filter="url(#b3)"/>
<rect x="816.5" y="155.8" width="16" height="10" rx="3.5" fill="#222" filter="url(#b3)"/>
</g>
<rect x="547" y="221.0" width="280.2" height="3.2" fill="#fff"/>
<rect x="547" y="300.0" width="280.2" height="3.7" fill="#fff"/>
<line x1="547" y1="183.5" x2="827.2" y2="183.5" stroke="#e6e6e6" stroke-width="1.3"/>
<line x1="547" y1="263" x2="827.2" y2="263" stroke="#e6e6e6" stroke-width="1.3"/>
<line x1="547" y1="342" x2="827.2" y2="342" stroke="#e6e6e6" stroke-width="1.3"/>
<line x1="834.9" y1="146" x2="834.9" y2="221" stroke="#111" stroke-width="1.6"/>
<line x1="834.9" y1="224.2" x2="834.9" y2="300" stroke="#111" stroke-width="1.6"/>
<line x1="834.9" y1="303.7" x2="834.9" y2="379.6" stroke="#111" stroke-width="1.6"/>
<text transform="translate(842.0,198.4) scale(1,1.05)" font-size="31" text-anchor="start" >WT</text>
<text transform="translate(842.3,277.6) scale(1,1.05)" font-size="32.3" text-anchor="start" >&#916;<tspan font-style="italic">ssk1</tspan></text>
<text transform="translate(842.3,354.0) scale(1,1.05)" font-size="31.8" text-anchor="start" >&#916;<tspan font-style="italic">sho1</tspan></text>
<text transform="translate(264.5,173.0) scale(1,1.05)" font-size="27.7" text-anchor="end" >Hog1pp</text>
<text transform="translate(261.5,211.2) scale(1,1.05)" font-size="26.4" text-anchor="end" >Hog1</text>
<text transform="translate(264.5,252.0) scale(1,1.05)" font-size="27.7" text-anchor="end" >Hog1pp</text>
<text transform="translate(261.5,289.2) scale(1,1.05)" font-size="26.4" text-anchor="end" >Hog1</text>
<text transform="translate(264.5,332.4) scale(1,1.05)" font-size="27.7" text-anchor="end" >Hog1pp</text>
<text transform="translate(261.5,374.1) scale(1,1.05)" font-size="26.4" text-anchor="end" >Hog1</text>
<line x1="249.2" y1="434.3" x2="249.2" y2="929.6" stroke="#fafafa" stroke-width="1"/>
<line x1="331.7" y1="434.3" x2="331.7" y2="929.6" stroke="#fafafa" stroke-width="1"/>
<line x1="414.1" y1="434.3" x2="414.1" y2="929.6" stroke="#fafafa" stroke-width="1"/>
<line x1="496.6" y1="434.3" x2="496.6" y2="929.6" stroke="#fafafa" stroke-width="1"/>
<line x1="208.0" y1="434.3" x2="208.0" y2="929.6" stroke="#f1f1f1" stroke-width="1.2"/>
<line x1="290.4" y1="434.3" x2="290.4" y2="929.6" stroke="#f1f1f1" stroke-width="1.2"/>
<line x1="372.9" y1="434.3" x2="372.9" y2="929.6" stroke="#f1f1f1" stroke-width="1.2"/>
<line x1="455.3" y1="434.3" x2="455.3" y2="929.6" stroke="#f1f1f1" stroke-width="1.2"/>
<line x1="537.8" y1="434.3" x2="537.8" y2="929.6" stroke="#f1f1f1" stroke-width="1.2"/>
<line x1="168" y1="926.4" x2="579" y2="926.4" stroke="#f1f1f1" stroke-width="1.2"/>
<line x1="168" y1="844.4" x2="579" y2="844.4" stroke="#f1f1f1" stroke-width="1.2"/>
<line x1="168" y1="762.4" x2="579" y2="762.4" stroke="#f1f1f1" stroke-width="1.2"/>
<line x1="168" y1="680.4" x2="579" y2="680.4" stroke="#f1f1f1" stroke-width="1.2"/>
<line x1="168" y1="598.4" x2="579" y2="598.4" stroke="#f1f1f1" stroke-width="1.2"/>
<line x1="168" y1="516.4" x2="579" y2="516.4" stroke="#f1f1f1" stroke-width="1.2"/>
<line x1="665.4" y1="434.3" x2="665.4" y2="929.6" stroke="#fafafa" stroke-width="1"/>
<line x1="747.9" y1="434.3" x2="747.9" y2="929.6" stroke="#fafafa" stroke-width="1"/>
<line x1="830.4" y1="434.3" x2="830.4" y2="929.6" stroke="#fafafa" stroke-width="1"/>
<line x1="912.9" y1="434.3" x2="912.9" y2="929.6" stroke="#fafafa" stroke-width="1"/>
<line x1="624.1" y1="434.3" x2="624.1" y2="929.6" stroke="#f1f1f1" stroke-width="1.2"/>
<line x1="706.6" y1="434.3" x2="706.6" y2="929.6" stroke="#f1f1f1" stroke-width="1.2"/>
<line x1="789.1" y1="434.3" x2="789.1" y2="929.6" stroke="#f1f1f1" stroke-width="1.2"/>
<line x1="871.6" y1="434.3" x2="871.6" y2="929.6" stroke="#f1f1f1" stroke-width="1.2"/>
<line x1="954.1" y1="434.3" x2="954.1" y2="929.6" stroke="#f1f1f1" stroke-width="1.2"/>
<line x1="583.3" y1="926.4" x2="994.6" y2="926.4" stroke="#f1f1f1" stroke-width="1.2"/>
<line x1="583.3" y1="844.4" x2="994.6" y2="844.4" stroke="#f1f1f1" stroke-width="1.2"/>
<line x1="583.3" y1="762.4" x2="994.6" y2="762.4" stroke="#f1f1f1" stroke-width="1.2"/>
<line x1="583.3" y1="680.4" x2="994.6" y2="680.4" stroke="#f1f1f1" stroke-width="1.2"/>
<line x1="583.3" y1="598.4" x2="994.6" y2="598.4" stroke="#f1f1f1" stroke-width="1.2"/>
<line x1="583.3" y1="516.4" x2="994.6" y2="516.4" stroke="#f1f1f1" stroke-width="1.2"/>
<path d="M199.5,900.2H216.5M208.0,900.2V914.5M199.5,914.5H216.5" stroke="#111" stroke-width="2.2" fill="none"/>
<path d="M240.7,901.0H257.7M249.2,901.0V914.9M240.7,914.9H257.7" stroke="#111" stroke-width="2.2" fill="none"/>
<path d="M281.9,887.0H298.9M290.4,887.0V907.5M281.9,907.5H298.9" stroke="#111" stroke-width="2.2" fill="none"/>
<path d="M364.4,873.5H381.4M372.9,873.5V901.0M364.4,901.0H381.4" stroke="#111" stroke-width="2.2" fill="none"/>
<path d="M446.8,876.0H463.8M455.3,876.0V917.0M446.8,917.0H463.8" stroke="#111" stroke-width="2.2" fill="none"/>
<path d="M529.3,892.8H546.3M537.8,892.8V914.1M529.3,914.1H546.3" stroke="#111" stroke-width="2.2" fill="none"/>
<path d="M199.5,857.9H216.5M208.0,857.9V889.5M199.5,889.5H216.5" stroke="#111" stroke-width="2.2" fill="none"/>
<path d="M240.7,757.1H257.7M249.2,757.1V787.0M240.7,787.0H257.7" stroke="#111" stroke-width="2.2" fill="none"/>
<path d="M281.9,837.4H298.9M290.4,837.4V844.8M281.9,844.8H298.9" stroke="#111" stroke-width="2.2" fill="none"/>
<path d="M364.4,882.5H381.4M372.9,882.5V894.8M364.4,894.8H381.4" stroke="#111" stroke-width="2.2" fill="none"/>
<path d="M446.8,903.4H463.8M455.3,903.4V909.2M446.8,909.2H463.8" stroke="#111" stroke-width="2.2" fill="none"/>
<path d="M529.3,905.1H546.3M537.8,905.1V909.2M529.3,909.2H546.3" stroke="#111" stroke-width="2.2" fill="none"/>
<path d="M199.5,882.9H216.5M208.0,882.9V894.4M199.5,894.4H216.5" stroke="#111" stroke-width="2.2" fill="none"/>
<path d="M240.7,808.3H257.7M249.2,808.3V820.6M240.7,820.6H257.7" stroke="#111" stroke-width="2.2" fill="none"/>
<path d="M281.9,843.2H298.9M290.4,843.2V856.3M281.9,856.3H298.9" stroke="#111" stroke-width="2.2" fill="none"/>
<path d="M364.4,898.9H381.4M372.9,898.9V911.6M364.4,911.6H381.4" stroke="#111" stroke-width="2.2" fill="none"/>
<path d="M446.8,903.9H463.8M455.3,903.9V910.0M446.8,910.0H463.8" stroke="#111" stroke-width="2.2" fill="none"/>
<path d="M529.3,909.2H546.3M537.8,909.2V915.3M529.3,915.3H546.3" stroke="#111" stroke-width="2.2" fill="none"/>
<polyline points="208.0,907.1 249.2,907.9 290.4,896.9 372.9,892.8 455.3,896.5 537.8,903.9" fill="none" stroke="#111" stroke-width="2.2" stroke-dasharray="7.5,4.5"/>
<polyline points="208.0,873.5 249.2,771.8 290.4,841.9 372.9,889.1 455.3,906.3 537.8,907.1" fill="none" stroke="#111" stroke-width="2.2" stroke-dasharray="4,3"/>
<polyline points="208.0,888.3 249.2,814.5 290.4,849.7 372.9,901.0 455.3,907.1 537.8,912.5" fill="none" stroke="#111" stroke-width="2.2"/>
<circle cx="208.0" cy="888.3" r="4.5" fill="#E41A1C"/>
<circle cx="249.2" cy="814.5" r="4.5" fill="#E41A1C"/>
<circle cx="290.4" cy="849.7" r="4.5" fill="#E41A1C"/>
<circle cx="372.9" cy="901.0" r="4.5" fill="#E41A1C"/>
<circle cx="455.3" cy="907.1" r="4.5" fill="#E41A1C"/>
<circle cx="537.8" cy="912.5" r="4.5" fill="#E41A1C"/>
<circle cx="208.0" cy="873.5" r="4.5" fill="#377EB8"/>
<circle cx="249.2" cy="771.8" r="4.5" fill="#377EB8"/>
<circle cx="290.4" cy="841.9" r="4.5" fill="#377EB8"/>
<circle cx="372.9" cy="889.1" r="4.5" fill="#377EB8"/>
<circle cx="455.3" cy="906.3" r="4.5" fill="#377EB8"/>
<circle cx="537.8" cy="907.1" r="4.5" fill="#377EB8"/>
<circle cx="208.0" cy="907.1" r="4.5" fill="#4DAF4A"/>
<circle cx="249.2" cy="907.9" r="4.5" fill="#4DAF4A"/>
<circle cx="290.4" cy="896.9" r="4.5" fill="#4DAF4A"/>
<circle cx="372.9" cy="892.8" r="4.5" fill="#4DAF4A"/>
<circle cx="455.3" cy="896.5" r="4.5" fill="#4DAF4A"/>
<circle cx="537.8" cy="903.9" r="4.5" fill="#4DAF4A"/>
<rect x="168" y="434.3" width="411.0" height="495.3" fill="none" stroke="#1a1a1a" stroke-width="1.7"/>
<line x1="208.0" y1="929.6" x2="208.0" y2="934.6" stroke="#1a1a1a" stroke-width="1.5"/>
<text transform="translate(208.0,960.8) scale(1,1.05)" font-size="25.8" text-anchor="middle" >0</text>
<line x1="290.4" y1="929.6" x2="290.4" y2="934.6" stroke="#1a1a1a" stroke-width="1.5"/>
<text transform="translate(294.1,960.8) scale(1,1.05)" font-size="25.8" text-anchor="middle" >10</text>
<line x1="372.9" y1="929.6" x2="372.9" y2="934.6" stroke="#1a1a1a" stroke-width="1.5"/>
<text transform="translate(375.5,960.8) scale(1,1.05)" font-size="25.8" text-anchor="middle" >20</text>
<line x1="455.3" y1="929.6" x2="455.3" y2="934.6" stroke="#1a1a1a" stroke-width="1.5"/>
<text transform="translate(457.9,960.8) scale(1,1.05)" font-size="25.8" text-anchor="middle" >30</text>
<line x1="537.8" y1="929.6" x2="537.8" y2="934.6" stroke="#1a1a1a" stroke-width="1.5"/>
<text transform="translate(540.4,960.8) scale(1,1.05)" font-size="25.8" text-anchor="middle" >40</text>
<path d="M615.6,869.0H632.6M624.1,869.0V898.9M615.6,898.9H632.6" stroke="#111" stroke-width="2.2" fill="none"/>
<path d="M656.9,807.5H673.9M665.4,807.5V880.1M656.9,880.1H673.9" stroke="#111" stroke-width="2.2" fill="none"/>
<path d="M698.1,771.8H715.1M706.6,771.8V869.4M698.1,869.4H715.1" stroke="#111" stroke-width="2.2" fill="none"/>
<path d="M780.6,836.6H797.6M789.1,836.6V887.9M780.6,887.9H797.6" stroke="#111" stroke-width="2.2" fill="none"/>
<path d="M863.1,868.6H880.1M871.6,868.6V898.1M863.1,898.1H880.1" stroke="#111" stroke-width="2.2" fill="none"/>
<path d="M945.6,878.0H962.6M954.1,878.0V901.4M945.6,901.4H962.6" stroke="#111" stroke-width="2.2" fill="none"/>
<path d="M615.6,821.4H632.6M624.1,821.4V846.9M615.6,846.9H632.6" stroke="#111" stroke-width="2.2" fill="none"/>
<path d="M656.9,519.7H673.9M665.4,519.7V541.0M656.9,541.0H673.9" stroke="#111" stroke-width="2.2" fill="none"/>
<path d="M698.1,462.3H715.1M706.6,462.3V521.3M698.1,521.3H715.1" stroke="#111" stroke-width="2.2" fill="none"/>
<path d="M780.6,721.0H797.6M789.1,721.0V770.6M780.6,770.6H797.6" stroke="#111" stroke-width="2.2" fill="none"/>
<path d="M863.1,791.5H880.1M871.6,791.5V831.7M863.1,831.7H880.1" stroke="#111" stroke-width="2.2" fill="none"/>
<path d="M945.6,792.7H962.6M954.1,792.7V846.0M945.6,846.0H962.6" stroke="#111" stroke-width="2.2" fill="none"/>
<path d="M615.6,849.7H632.6M624.1,849.7V859.6M615.6,859.6H632.6" stroke="#111" stroke-width="2.2" fill="none"/>
<path d="M656.9,516.4H673.9M665.4,516.4V570.5M656.9,570.5H673.9" stroke="#111" stroke-width="2.2" fill="none"/>
<path d="M698.1,522.5H715.1M706.6,522.5V541.0M698.1,541.0H715.1" stroke="#111" stroke-width="2.2" fill="none"/>
<path d="M780.6,770.6H797.6M789.1,770.6V792.3M780.6,792.3H797.6" stroke="#111" stroke-width="2.2" fill="none"/>
<path d="M863.1,814.1H880.1M871.6,814.1V837.8M863.1,837.8H880.1" stroke="#111" stroke-width="2.2" fill="none"/>
<path d="M945.6,819.8H962.6M954.1,819.8V848.5M945.6,848.5H962.6" stroke="#111" stroke-width="2.2" fill="none"/>
<polyline points="624.1,884.6 665.4,844.0 706.6,821.0 789.1,862.4 871.6,883.8 954.1,889.5" fill="none" stroke="#111" stroke-width="2.2" stroke-dasharray="7.5,4.5"/>
<polyline points="624.1,834.1 665.4,530.3 706.6,491.8 789.1,745.6 871.6,811.6 954.1,819.0" fill="none" stroke="#111" stroke-width="2.2" stroke-dasharray="4,3"/>
<polyline points="624.1,854.6 665.4,543.0 706.6,532.0 789.1,781.3 871.6,825.9 954.1,834.1" fill="none" stroke="#111" stroke-width="2.2"/>
<circle cx="624.1" cy="854.6" r="4.5" fill="#E41A1C"/>
<circle cx="665.4" cy="543.0" r="4.5" fill="#E41A1C"/>
<circle cx="706.6" cy="532.0" r="4.5" fill="#E41A1C"/>
<circle cx="789.1" cy="781.3" r="4.5" fill="#E41A1C"/>
<circle cx="871.6" cy="825.9" r="4.5" fill="#E41A1C"/>
<circle cx="954.1" cy="834.1" r="4.5" fill="#E41A1C"/>
<circle cx="624.1" cy="834.1" r="4.5" fill="#377EB8"/>
<circle cx="665.4" cy="530.3" r="4.5" fill="#377EB8"/>
<circle cx="706.6" cy="491.8" r="4.5" fill="#377EB8"/>
<circle cx="789.1" cy="745.6" r="4.5" fill="#377EB8"/>
<circle cx="871.6" cy="811.6" r="4.5" fill="#377EB8"/>
<circle cx="954.1" cy="819.0" r="4.5" fill="#377EB8"/>
<circle cx="624.1" cy="884.6" r="4.5" fill="#4DAF4A"/>
<circle cx="665.4" cy="844.0" r="4.5" fill="#4DAF4A"/>
<circle cx="706.6" cy="821.0" r="4.5" fill="#4DAF4A"/>
<circle cx="789.1" cy="862.4" r="4.5" fill="#4DAF4A"/>
<circle cx="871.6" cy="883.8" r="4.5" fill="#4DAF4A"/>
<circle cx="954.1" cy="889.5" r="4.5" fill="#4DAF4A"/>
<rect x="583.3" y="434.3" width="411.3" height="495.3" fill="none" stroke="#1a1a1a" stroke-width="1.7"/>
<line x1="624.1" y1="929.6" x2="624.1" y2="934.6" stroke="#1a1a1a" stroke-width="1.5"/>
<text transform="translate(624.1,960.8) scale(1,1.05)" font-size="25.8" text-anchor="middle" >0</text>
<line x1="706.6" y1="929.6" x2="706.6" y2="934.6" stroke="#1a1a1a" stroke-width="1.5"/>
<text transform="translate(710.2,960.8) scale(1,1.05)" font-size="25.8" text-anchor="middle" >10</text>
<line x1="789.1" y1="929.6" x2="789.1" y2="934.6" stroke="#1a1a1a" stroke-width="1.5"/>
<text transform="translate(791.7,960.8) scale(1,1.05)" font-size="25.8" text-anchor="middle" >20</text>
<line x1="871.6" y1="929.6" x2="871.6" y2="934.6" stroke="#1a1a1a" stroke-width="1.5"/>
<text transform="translate(874.2,960.8) scale(1,1.05)" font-size="25.8" text-anchor="middle" >30</text>
<line x1="954.1" y1="929.6" x2="954.1" y2="934.6" stroke="#1a1a1a" stroke-width="1.5"/>
<text transform="translate(956.7,960.8) scale(1,1.05)" font-size="25.8" text-anchor="middle" >40</text>
<line x1="162.9" y1="926.4" x2="168" y2="926.4" stroke="#1a1a1a" stroke-width="1.5"/>
<text transform="translate(157.8,930.9) scale(1,1.05)" font-size="26.5" text-anchor="end" letter-spacing="0.8">0</text>
<line x1="162.9" y1="844.4" x2="168" y2="844.4" stroke="#1a1a1a" stroke-width="1.5"/>
<text transform="translate(157.8,848.9) scale(1,1.05)" font-size="26.5" text-anchor="end" letter-spacing="0.8">2</text>
<line x1="162.9" y1="762.4" x2="168" y2="762.4" stroke="#1a1a1a" stroke-width="1.5"/>
<text transform="translate(157.8,766.9) scale(1,1.05)" font-size="26.5" text-anchor="end" letter-spacing="0.8">4</text>
<line x1="162.9" y1="680.4" x2="168" y2="680.4" stroke="#1a1a1a" stroke-width="1.5"/>
<text transform="translate(157.8,684.9) scale(1,1.05)" font-size="26.5" text-anchor="end" letter-spacing="0.8">6</text>
<line x1="162.9" y1="598.4" x2="168" y2="598.4" stroke="#1a1a1a" stroke-width="1.5"/>
<text transform="translate(157.8,602.9) scale(1,1.05)" font-size="26.5" text-anchor="end" letter-spacing="0.8">8</text>
<line x1="162.9" y1="516.4" x2="168" y2="516.4" stroke="#1a1a1a" stroke-width="1.5"/>
<text transform="translate(157.8,520.9) scale(1,1.05)" font-size="26.5" text-anchor="end" letter-spacing="0.8">10</text>
<line x1="162.9" y1="434.4" x2="168" y2="434.4" stroke="#1a1a1a" stroke-width="1.5"/>
<text transform="translate(157.8,438.9) scale(1,1.05)" font-size="26.5" text-anchor="end" letter-spacing="0.8">12</text>
<text transform="translate(559.3,469.0) scale(1,1.05)" font-size="31.5" text-anchor="end" >SC</text>
<text transform="translate(981.3,468.6) scale(1,1.05)" font-size="31.8" text-anchor="end" >SC+1M sorbitol</text>
<rect x="186.8" y="447" width="30.5" height="91.9" fill="#fff"/>
<circle cx="202" cy="462.8" r="7.7" fill="#E41A1C"/>
<text transform="translate(222.0,471.6) scale(1,1.05)" font-size="26.5" text-anchor="start" >WT</text>
<circle cx="202" cy="493.2" r="7.7" fill="#377EB8"/>
<text transform="translate(222.0,502.0) scale(1,1.05)" font-size="27.6" text-anchor="start" >&#916;<tspan font-style="italic">sho1</tspan></text>
<circle cx="202" cy="523.6" r="7.7" fill="#4DAF4A"/>
<text transform="translate(222.0,532.4) scale(1,1.05)" font-size="27.6" text-anchor="start" >&#916;<tspan font-style="italic">ssk1</tspan></text>
<text transform="translate(575.1,1000.4) scale(1,1.05)" font-size="31.4" text-anchor="middle" >Time after heat&#8211;shock (min.)</text>
<text transform="translate(73.0,672.2) rotate(-90) scale(1,1.05)" font-size="31.5" text-anchor="middle" >Hog1pp abundance</text>
<text transform="translate(111.7,673.6) rotate(-90) scale(1,1.05)" font-size="31.7" text-anchor="middle" >(Hog1pp/Hog1)</text>
<text transform="translate(4.0,1058.6) scale(1,1.05)" font-size="46" text-anchor="start" stroke="#000" stroke-width="0.9">B</text>
<line x1="265.4" y1="1058.4" x2="265.4" y2="1578.3" stroke="#f0f0f0" stroke-width="1.1"/>
<line x1="350.1" y1="1058.4" x2="350.1" y2="1578.3" stroke="#f0f0f0" stroke-width="1.1"/>
<line x1="434.8" y1="1058.4" x2="434.8" y2="1578.3" stroke="#f0f0f0" stroke-width="1.1"/>
<line x1="519.8" y1="1058.4" x2="519.8" y2="1578.3" stroke="#f0f0f0" stroke-width="1.1"/>
<line x1="214.4" y1="1578.3" x2="570.4" y2="1578.3" stroke="#eeeeee" stroke-width="1.1"/>
<line x1="214.4" y1="1483.9" x2="570.4" y2="1483.9" stroke="#eeeeee" stroke-width="1.1"/>
<line x1="214.4" y1="1389.5" x2="570.4" y2="1389.5" stroke="#eeeeee" stroke-width="1.1"/>
<line x1="214.4" y1="1295.0" x2="570.4" y2="1295.0" stroke="#eeeeee" stroke-width="1.1"/>
<line x1="214.4" y1="1200.6" x2="570.4" y2="1200.6" stroke="#eeeeee" stroke-width="1.1"/>
<line x1="214.4" y1="1106.2" x2="570.4" y2="1106.2" stroke="#eeeeee" stroke-width="1.1"/>
<line x1="214.4" y1="1531.1" x2="570.4" y2="1531.1" stroke="#f9f9f9" stroke-width="1"/>
<line x1="214.4" y1="1436.7" x2="570.4" y2="1436.7" stroke="#f9f9f9" stroke-width="1"/>
<line x1="214.4" y1="1342.2" x2="570.4" y2="1342.2" stroke="#f9f9f9" stroke-width="1"/>
<line x1="214.4" y1="1247.8" x2="570.4" y2="1247.8" stroke="#f9f9f9" stroke-width="1"/>
<line x1="214.4" y1="1153.4" x2="570.4" y2="1153.4" stroke="#f9f9f9" stroke-width="1"/>
<line x1="214.4" y1="1059.0" x2="570.4" y2="1059.0" stroke="#f9f9f9" stroke-width="1"/>
<rect x="227.2" y="1207.2" width="76.3" height="371.1" fill="#E41A1C" stroke="#222" stroke-width="1.1"/>
<rect x="312.0" y="1413.1" width="76.3" height="165.2" fill="#377EB8" stroke="#222" stroke-width="1.1"/>
<rect x="396.7" y="1181.7" width="76.3" height="396.6" fill="#4DAF4A" stroke="#222" stroke-width="1.1"/>
<rect x="481.6" y="1479.2" width="76.3" height="99.1" fill="#984EA3" stroke="#222" stroke-width="1.1"/>
<path d="M254.9,1196.3H275.9M265.4,1196.3V1217.6M254.9,1217.6H275.9" stroke="#111" stroke-width="1.3" fill="none"/>
<path d="M339.6,1407.4H360.6M350.1,1407.4V1418.7M339.6,1418.7H360.6" stroke="#111" stroke-width="1.3" fill="none"/>
<path d="M424.3,1165.9H445.3M434.8,1165.9V1196.3M424.3,1196.3H445.3" stroke="#111" stroke-width="1.3" fill="none"/>
<path d="M509.3,1456.8H530.3M519.8,1456.8V1502.4M509.3,1502.4H530.3" stroke="#111" stroke-width="1.3" fill="none"/>
<circle cx="265.4" cy="1186.5" r="3.2" fill="#000"/>
<circle cx="265.4" cy="1210.1" r="3.2" fill="#000"/>
<circle cx="265.4" cy="1223.3" r="3.2" fill="#000"/>
<circle cx="350.1" cy="1404.6" r="3.2" fill="#000"/>
<circle cx="350.1" cy="1409.3" r="3.2" fill="#000"/>
<circle cx="350.1" cy="1424.4" r="3.2" fill="#000"/>
<circle cx="434.8" cy="1155.3" r="3.2" fill="#000"/>
<circle cx="434.8" cy="1178.4" r="3.2" fill="#000"/>
<circle cx="434.8" cy="1208.2" r="3.2" fill="#000"/>
<circle cx="519.8" cy="1433.2" r="3.2" fill="#000"/>
<circle cx="519.8" cy="1498.0" r="3.2" fill="#000"/>
<circle cx="519.8" cy="1506.0" r="3.2" fill="#000"/>
<rect x="214.4" y="1058.4" width="356.0" height="519.9" fill="none" stroke="#555" stroke-width="1.1"/>
<line x1="209.9" y1="1578.3" x2="214.4" y2="1578.3" stroke="#444" stroke-width="1.1"/>
<text transform="translate(200.6,1583.5) scale(1,1.05)" font-size="27" text-anchor="end" >1</text>
<line x1="209.9" y1="1483.9" x2="214.4" y2="1483.9" stroke="#444" stroke-width="1.1"/>
<text transform="translate(200.6,1489.1) scale(1,1.05)" font-size="27" text-anchor="end" >2</text>
<line x1="209.9" y1="1389.5" x2="214.4" y2="1389.5" stroke="#444" stroke-width="1.1"/>
<text transform="translate(200.6,1394.7) scale(1,1.05)" font-size="27" text-anchor="end" >3</text>
<line x1="209.9" y1="1295.0" x2="214.4" y2="1295.0" stroke="#444" stroke-width="1.1"/>
<text transform="translate(200.6,1300.2) scale(1,1.05)" font-size="27" text-anchor="end" >4</text>
<line x1="209.9" y1="1200.6" x2="214.4" y2="1200.6" stroke="#444" stroke-width="1.1"/>
<text transform="translate(200.6,1205.8) scale(1,1.05)" font-size="27" text-anchor="end" >5</text>
<line x1="209.9" y1="1106.2" x2="214.4" y2="1106.2" stroke="#444" stroke-width="1.1"/>
<text transform="translate(200.6,1111.4) scale(1,1.05)" font-size="27" text-anchor="end" >6</text>
<line x1="265.4" y1="1578.3" x2="265.4" y2="1582.8" stroke="#444" stroke-width="1.1"/>
<line x1="350.1" y1="1578.3" x2="350.1" y2="1582.8" stroke="#444" stroke-width="1.1"/>
<line x1="434.8" y1="1578.3" x2="434.8" y2="1582.8" stroke="#444" stroke-width="1.1"/>
<line x1="519.8" y1="1578.3" x2="519.8" y2="1582.8" stroke="#444" stroke-width="1.1"/>
<line x1="655.7" y1="1059.8" x2="655.7" y2="1578.2" stroke="#f0f0f0" stroke-width="1.1"/>
<line x1="740.4" y1="1059.8" x2="740.4" y2="1578.2" stroke="#f0f0f0" stroke-width="1.1"/>
<line x1="825.3" y1="1059.8" x2="825.3" y2="1578.2" stroke="#f0f0f0" stroke-width="1.1"/>
<line x1="910.1" y1="1059.8" x2="910.1" y2="1578.2" stroke="#f0f0f0" stroke-width="1.1"/>
<line x1="605.9" y1="1578.2" x2="960" y2="1578.2" stroke="#eeeeee" stroke-width="1.1"/>
<line x1="605.9" y1="1462.8" x2="960" y2="1462.8" stroke="#eeeeee" stroke-width="1.1"/>
<line x1="605.9" y1="1347.4" x2="960" y2="1347.4" stroke="#eeeeee" stroke-width="1.1"/>
<line x1="605.9" y1="1232.0" x2="960" y2="1232.0" stroke="#eeeeee" stroke-width="1.1"/>
<line x1="605.9" y1="1116.6" x2="960" y2="1116.6" stroke="#eeeeee" stroke-width="1.1"/>
<line x1="605.9" y1="1520.5" x2="960" y2="1520.5" stroke="#f9f9f9" stroke-width="1"/>
<line x1="605.9" y1="1405.1" x2="960" y2="1405.1" stroke="#f9f9f9" stroke-width="1"/>
<line x1="605.9" y1="1289.7" x2="960" y2="1289.7" stroke="#f9f9f9" stroke-width="1"/>
<line x1="605.9" y1="1174.3" x2="960" y2="1174.3" stroke="#f9f9f9" stroke-width="1"/>
<rect x="617.6" y="1175.5" width="76.3" height="402.7" fill="#E41A1C" stroke="#222" stroke-width="1.1"/>
<rect x="702.2" y="1438.6" width="76.3" height="139.6" fill="#377EB8" stroke="#222" stroke-width="1.1"/>
<rect x="787.1" y="1365.9" width="76.3" height="212.3" fill="#4DAF4A" stroke="#222" stroke-width="1.1"/>
<rect x="872.0" y="1398.2" width="76.3" height="180.0" fill="#984EA3" stroke="#222" stroke-width="1.1"/>
<path d="M645.2,1159.3H666.2M655.7,1159.3V1192.8M645.2,1192.8H666.2" stroke="#111" stroke-width="1.3" fill="none"/>
<path d="M729.9,1428.2H750.9M740.4,1428.2V1447.8M729.9,1447.8H750.9" stroke="#111" stroke-width="1.3" fill="none"/>
<path d="M814.8,1350.9H835.8M825.3,1350.9V1380.9M814.8,1380.9H835.8" stroke="#111" stroke-width="1.3" fill="none"/>
<path d="M899.6,1384.3H920.6M910.1,1384.3V1412.0M899.6,1412.0H920.6" stroke="#111" stroke-width="1.3" fill="none"/>
<circle cx="655.7" cy="1142.0" r="3.2" fill="#000"/>
<circle cx="655.7" cy="1192.8" r="3.2" fill="#000"/>
<circle cx="655.7" cy="1192.8" r="3.2" fill="#000"/>
<circle cx="740.4" cy="1420.1" r="3.2" fill="#000"/>
<circle cx="740.4" cy="1436.3" r="3.2" fill="#000"/>
<circle cx="740.4" cy="1455.9" r="3.2" fill="#000"/>
<circle cx="825.3" cy="1339.3" r="3.2" fill="#000"/>
<circle cx="825.3" cy="1365.9" r="3.2" fill="#000"/>
<circle cx="825.3" cy="1391.3" r="3.2" fill="#000"/>
<circle cx="910.1" cy="1371.6" r="3.2" fill="#000"/>
<circle cx="910.1" cy="1399.3" r="3.2" fill="#000"/>
<circle cx="910.1" cy="1420.1" r="3.2" fill="#000"/>
<rect x="605.9" y="1059.8" width="354.1" height="518.4" fill="none" stroke="#555" stroke-width="1.1"/>
<line x1="601.4" y1="1578.2" x2="605.9" y2="1578.2" stroke="#444" stroke-width="1.1"/>
<text transform="translate(595.1,1583.4) scale(1,1.05)" font-size="27" text-anchor="end" >1</text>
<line x1="601.4" y1="1462.8" x2="605.9" y2="1462.8" stroke="#444" stroke-width="1.1"/>
<text transform="translate(595.1,1468.0) scale(1,1.05)" font-size="27" text-anchor="end" >2</text>
<line x1="601.4" y1="1347.4" x2="605.9" y2="1347.4" stroke="#444" stroke-width="1.1"/>
<text transform="translate(595.1,1352.6) scale(1,1.05)" font-size="27" text-anchor="end" >3</text>
<line x1="601.4" y1="1232.0" x2="605.9" y2="1232.0" stroke="#444" stroke-width="1.1"/>
<text transform="translate(595.1,1237.2) scale(1,1.05)" font-size="27" text-anchor="end" >4</text>
<line x1="601.4" y1="1116.6" x2="605.9" y2="1116.6" stroke="#444" stroke-width="1.1"/>
<text transform="translate(595.1,1121.8) scale(1,1.05)" font-size="27" text-anchor="end" >5</text>
<line x1="655.7" y1="1578.2" x2="655.7" y2="1582.7" stroke="#444" stroke-width="1.1"/>
<line x1="740.4" y1="1578.2" x2="740.4" y2="1582.7" stroke="#444" stroke-width="1.1"/>
<line x1="825.3" y1="1578.2" x2="825.3" y2="1582.7" stroke="#444" stroke-width="1.1"/>
<line x1="910.1" y1="1578.2" x2="910.1" y2="1582.7" stroke="#444" stroke-width="1.1"/>
<path d="M265.4,1161.0V1149.5H350.1V1161.0" stroke="#555" stroke-width="1.1" fill="none"/>
<text transform="translate(308.1,1146.0) scale(1,1.05)" font-size="18.5" text-anchor="middle" letter-spacing="1">***</text>
<path d="M265.4,1131.0V1119.5H434.8V1131.0" stroke="#555" stroke-width="1.1" fill="none"/>
<circle cx="350.5" cy="1104.3" r="1" fill="#222"/>
<path d="M265.4,1100.5V1088.8H519.8V1100.5" stroke="#555" stroke-width="1.1" fill="none"/>
<text transform="translate(393.1,1086.0) scale(1,1.05)" font-size="18.5" text-anchor="middle" letter-spacing="1">***</text>
<path d="M655.7,1133.9V1122.2H740.4V1133.9" stroke="#555" stroke-width="1.1" fill="none"/>
<text transform="translate(698.4,1122.0) scale(1,1.05)" font-size="18.5" text-anchor="middle" letter-spacing="1">***</text>
<path d="M655.7,1114.4V1101.9H825.3V1114.4" stroke="#555" stroke-width="1.1" fill="none"/>
<text transform="translate(741.3,1101.5) scale(1,1.05)" font-size="18.5" text-anchor="middle" letter-spacing="1">***</text>
<path d="M655.7,1092.1V1080.0H910.1V1092.1" stroke="#555" stroke-width="1.1" fill="none"/>
<text transform="translate(783.1,1081.0) scale(1,1.05)" font-size="18.5" text-anchor="middle" letter-spacing="1">***</text>
<text transform="translate(265.5,1612.5) scale(1,1.05)" font-size="27" text-anchor="middle" >WT</text>
<text transform="translate(350.1,1612.5) scale(1,1.05)" font-size="27.6" text-anchor="middle" >&#916;<tspan font-style="italic">ssk1</tspan></text>
<text transform="translate(434.8,1612.5) scale(1,1.05)" font-size="27.6" text-anchor="middle" >&#916;<tspan font-style="italic">sho1</tspan></text>
<text transform="translate(519.8,1612.5) scale(1,1.05)" font-size="27.6" text-anchor="middle" >&#916;<tspan font-style="italic">sho1</tspan></text>
<text transform="translate(518.5,1644.0) scale(1,1.05)" font-size="27.6" text-anchor="middle" >&#916;<tspan font-style="italic">ssk1</tspan></text>
<text transform="translate(655.0,1610.8) scale(1,1.05)" font-size="27" text-anchor="middle" >WT</text>
<text transform="translate(733.0,1611.0) scale(1,1.05)" font-size="27.6" text-anchor="middle" >&#916;<tspan font-style="italic">ssk2</tspan></text>
<text transform="translate(825.0,1611.0) scale(1,1.05)" font-size="27.6" text-anchor="middle" >&#916;<tspan font-style="italic">ssk22</tspan></text>
<text transform="translate(918.0,1611.0) scale(1,1.05)" font-size="27.6" text-anchor="middle" >&#916;<tspan font-style="italic">ssk2</tspan></text>
<text transform="translate(926.5,1644.0) scale(1,1.05)" font-size="27.6" text-anchor="middle" >&#916;<tspan font-style="italic">ssk22</tspan></text>
<text transform="translate(104.7,1320.9) rotate(-90) scale(1,1.05)" font-size="31.5" text-anchor="middle" >HOG system output</text>
<text transform="translate(136.2,1323.2) rotate(-90) scale(1,1.05)" font-size="31" text-anchor="middle" >(mean <tspan font-style="italic">P</tspan><tspan font-style="italic" font-size="21" dy="6">STL1</tspan><tspan dy="-6">&#8211;</tspan><tspan font-style="italic">YFP</tspan> fluoresc.,</text>
<text transform="translate(174.2,1320.1) rotate(-90) scale(1,1.05)" font-size="31" text-anchor="middle" >relative to t<tspan font-size="21" dy="6">0</tspan><tspan dy="-6">)</tspan></text>
</svg>
</body></html>
